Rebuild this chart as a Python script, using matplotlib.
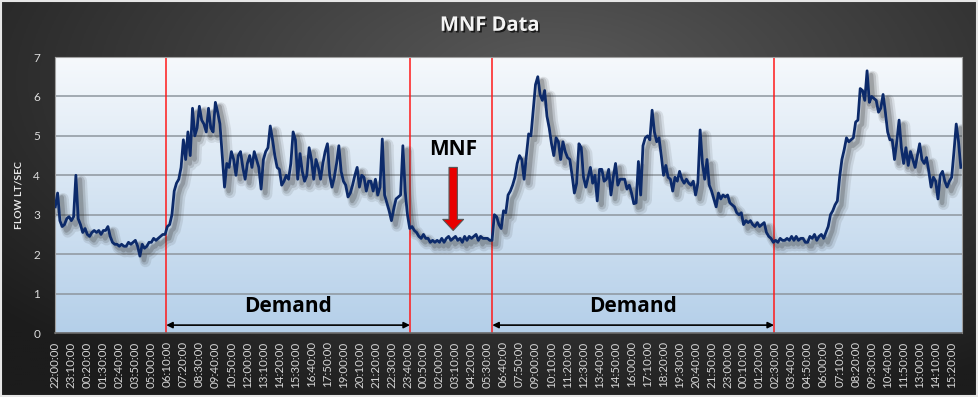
import matplotlib
matplotlib.use('Agg')
import matplotlib.pyplot as plt
import matplotlib.patheffects as pe
from matplotlib.patches import Rectangle
import numpy as np

# 流量数据, 每10分钟一个点, 从 22:00 开始
flow = [
    3.2, 3.55, 2.85, 2.7, 2.75, 2.9, 2.95, 2.85, 2.95, 4.0,
    2.9, 2.75, 2.55, 2.65, 2.5, 2.45, 2.55, 2.6, 2.55, 2.6,
    2.5, 2.6, 2.6, 2.7, 2.45, 2.3, 2.25, 2.25, 2.2, 2.25,
    2.2, 2.2, 2.3, 2.25, 2.3, 2.35, 2.2, 1.95, 2.25, 2.15,
    2.2, 2.3, 2.3, 2.4, 2.35, 2.4, 2.45, 2.5, 2.5, 2.7,
    2.75, 3.0, 3.6, 3.8, 3.9, 4.2, 4.9, 4.4, 5.1, 4.5,
    5.7, 5.0, 5.2, 5.75, 5.4, 5.3, 5.1, 5.7, 5.2, 5.1,
    5.85, 5.6, 5.3, 4.5, 3.7, 4.3, 4.2, 4.6, 4.4, 4.0,
    4.5, 4.6, 4.2, 3.9, 4.3, 4.5, 4.2, 4.6, 4.4, 4.2,
    3.65, 4.4, 4.6, 4.7, 5.25, 4.9, 4.5, 4.2, 4.15, 3.75,
    3.85, 4.0, 3.9, 4.3, 5.1, 4.9, 3.9, 4.55, 4.1, 3.85,
    4.0, 4.7, 4.4, 3.9, 4.4, 4.2, 3.9, 4.3, 4.6, 4.8,
    4.0, 3.7, 3.95, 4.3, 4.75, 4.1, 3.85, 3.75, 3.45, 3.55,
    3.75, 4.0, 4.2, 3.7, 4.0, 3.95, 3.6, 3.85, 3.85, 3.6,
    3.9, 3.5, 3.7, 4.92, 3.5, 3.3, 3.1, 2.85, 3.15, 3.4,
    3.45, 3.5, 4.75, 3.6, 3.0, 2.65, 2.7, 2.6, 2.55, 2.45,
    2.4, 2.5, 2.4, 2.4, 2.3, 2.35, 2.3, 2.35, 2.3, 2.4,
    2.3, 2.4, 2.45, 2.35, 2.4, 2.45, 2.35, 2.4, 2.3, 2.45,
    2.35, 2.45, 2.4, 2.45, 2.5, 2.35, 2.45, 2.4, 2.4, 2.4,
    2.35, 2.35, 3.0, 2.95, 2.75, 2.65, 3.1, 3.05, 3.5, 3.6,
    3.75, 3.95, 4.3, 4.5, 4.4, 3.9, 4.5, 5.05, 5.0, 5.65,
    6.3, 6.5, 6.05, 5.9, 6.15, 5.5, 5.2, 4.8, 4.5, 4.95,
    4.85, 4.4, 4.85, 4.6, 4.45, 4.4, 4.0, 3.55, 3.8, 4.8,
    4.7, 3.95, 3.7, 3.95, 4.2, 3.8, 4.0, 3.35, 4.15, 4.15,
    3.85, 3.9, 4.15, 3.5, 3.95, 4.3, 3.75, 3.9, 3.9, 3.9,
    3.65, 3.75, 3.55, 3.28, 3.3, 4.35, 3.5, 4.75, 4.95, 5.0,
    4.9, 5.65, 5.1, 4.85, 4.95, 4.5, 4.0, 4.25, 3.95, 3.9,
    3.6, 3.95, 3.85, 4.1, 3.9, 3.8, 3.9, 3.8, 3.75, 3.85,
    3.5, 3.8, 5.15, 4.3, 3.9, 4.4, 3.75, 3.6, 3.4, 3.2,
    3.55, 3.4, 3.5, 3.45, 3.5, 3.3, 3.25, 3.2, 3.05, 3.0,
    3.05, 2.75, 2.85, 2.8, 2.85, 2.75, 2.7, 2.8, 2.7, 2.75,
    2.8, 2.55, 2.45, 2.4, 2.3, 2.35, 2.3, 2.4, 2.35, 2.35,
    2.4, 2.35, 2.45, 2.35, 2.45, 2.35, 2.4, 2.4, 2.3, 2.3,
    2.45, 2.4, 2.5, 2.35, 2.45, 2.5, 2.4, 2.55, 2.7, 3.0,
    3.1, 3.25, 3.35, 3.95, 4.4, 4.65, 4.95, 4.85, 4.9, 4.95,
    5.35, 5.4, 6.2, 6.15, 5.9, 6.65, 5.85, 6.0, 5.95, 5.9,
    5.6, 5.7, 6.05, 5.6, 5.1, 4.9, 4.9, 4.4, 4.85, 5.4,
    4.7, 4.3, 4.7, 4.25, 4.6, 4.4, 4.2, 4.5, 4.8, 4.4,
    4.3, 4.45, 4.1, 3.7, 3.95, 3.85, 3.4, 4.0, 4.1, 3.85,
    3.7, 3.85, 3.95, 4.6, 5.3, 4.85, 4.2,
]

# 横轴标签, 每70分钟一个
tick_labels = [
    '22:00:00', '23:10:00', '00:20:00', '01:30:00', '02:40:00', '03:50:00',
    '05:00:00', '06:10:00', '07:20:00', '08:30:00', '09:40:00', '10:50:00',
    '12:00:00', '13:10:00', '14:20:00', '15:30:00', '16:40:00', '17:50:00',
    '19:00:00', '20:10:00', '21:20:00', '22:30:00', '23:40:00', '00:50:00',
    '02:00:00', '03:10:00', '04:20:00', '05:30:00', '06:40:00', '07:50:00',
    '09:00:00', '10:10:00', '11:20:00', '12:30:00', '13:40:00', '14:50:00',
    '16:00:00', '17:10:00', '18:20:00', '19:30:00', '20:40:00', '21:50:00',
    '23:00:00', '00:10:00', '01:20:00', '02:30:00', '03:40:00', '04:50:00',
    '06:00:00', '07:10:00', '08:20:00', '09:30:00', '10:40:00', '11:50:00',
    '13:00:00', '14:10:00', '15:20:00',
]
tick_step = 7

# 分段红线 (样本序号) 和注释
red_marks = [48.5, 155.1, 191.1, 314.3]
demand_spans = [(48.5, 155.1), (191.1, 314.3)]
mnf_point = (174, 2.6)
mnf_label_y = 4.65

FONT = 'Lato'
NOTE_FONT = 'Open Sans'

fig = plt.figure(figsize=(9.79, 3.97), dpi=100)

# 深色径向渐变背景
bg = fig.add_axes([0, 0, 1, 1], zorder=-10)
yy, xx = np.mgrid[0:1:200j, 0:1:490j]
r = np.sqrt(((xx - 0.56) / 0.75) ** 2 + ((yy - 0.2) / 0.9) ** 2)
r = np.clip(r, 0, 1)
c0 = np.array([0x5a, 0x5a, 0x5a]) / 255
c1 = np.array([0x1c, 0x1c, 0x1c]) / 255
img = c0[None, None, :] * (1 - r[..., None]) + c1[None, None, :] * r[..., None]
bg.imshow(img, extent=[0, 1, 0, 1], aspect='auto')
bg.set_xlim(0, 1)
bg.set_ylim(0, 1)
bg.axis('off')
fig.patches.append(Rectangle((0.001, 0.002), 0.997, 0.995, transform=fig.transFigure,
                             fill=False, edgecolor='#e6e6e6', lw=1.5))

ax = fig.add_axes([0.0565, 0.1612, 0.9261, 0.6952])

# 绘图区渐变 (上白下浅蓝)
grad = np.linspace(0, 1, 256)[:, None]
top = np.array([0xf6, 0xf9, 0xfc]) / 255
bot = np.array([0xb4, 0xcf, 0xe9]) / 255
pimg = top[None, None, :] * (1 - grad[..., None]) + bot[None, None, :] * grad[..., None]
pimg = np.repeat(pimg, 2, axis=1)
ax.imshow(pimg, extent=[0, 1, 0, 1], transform=ax.transAxes, aspect='auto', zorder=0)

x = np.arange(len(flow))
ax.set_xlim(0, len(flow) - 0.5)
ax.set_ylim(0, 7)

for v in range(1, 7):
    ax.axhline(v, color='#8e969e', lw=1.1, zorder=1)

for xm in red_marks:
    ax.axvline(xm, color='#ff1a1a', lw=1.1, zorder=2)

shadow = [
    pe.SimpleLineShadow(offset=(4, -4), shadow_color='#2a2a2a', alpha=0.10, linewidth=8),
    pe.SimpleLineShadow(offset=(3.5, -3.5), shadow_color='#2a2a2a', alpha=0.15, linewidth=5.5),
    pe.SimpleLineShadow(offset=(3, -3), shadow_color='#2a2a2a', alpha=0.22, linewidth=3),
    pe.Normal(),
]
ax.plot(x, flow, color='#0c2a6a', lw=2.0, zorder=3, path_effects=shadow)

# Demand 双向箭头
for a, b in demand_spans:
    ax.annotate('', xy=(b, 0.2), xytext=(a, 0.2),
                arrowprops=dict(arrowstyle='<|-|>', color='black', lw=1.2,
                                mutation_scale=9, shrinkA=0, shrinkB=0), zorder=4)
    ax.text((a + b) / 2, 0.68, 'Demand', ha='center', va='center', fontsize=15,
            fontweight='bold', family=NOTE_FONT, color='black', zorder=4)

# MNF 红色箭头
ax.annotate('', xy=mnf_point, xytext=(mnf_point[0], 4.2),
            arrowprops=dict(arrowstyle='simple,head_length=8,head_width=15,tail_width=6',
                            mutation_scale=1, facecolor='#e80000', edgecolor='#555555',
                            lw=0.8, shrinkA=0, shrinkB=0), zorder=5)
ax.text(mnf_point[0], mnf_label_y, 'MNF', ha='center', va='center', fontsize=15,
        fontweight='bold', family=NOTE_FONT, color='black', zorder=5)

ax.set_xticks(x[::tick_step])
ax.set_xticklabels(tick_labels, rotation=90, fontsize=8.3, family=FONT, color='#d6d6d6')
ax.set_yticks(range(0, 8))
ax.set_yticklabels([str(v) for v in range(0, 8)], fontsize=8.5, family=FONT, color='#dcdcdc')
ax.tick_params(axis='both', length=0)
ax.tick_params(axis='x', pad=6)
ax.tick_params(axis='y', pad=11)
ax.set_ylabel('FLOW LT/SEC', fontsize=7.5, fontweight='bold', family=FONT,
              color='#e8e8e8', labelpad=7)

for s in ax.spines.values():
    s.set_color('#a0a0a0')
    s.set_linewidth(0.8)
ax.spines['bottom'].set_color('#6a6a6a')
ax.spines['bottom'].set_linewidth(1.2)

fig.text(0.5, 0.935, 'MNF Data', ha='center', va='center', fontsize=14.5,
         fontweight='bold', family=NOTE_FONT, color='#f4f4f4',
         path_effects=[pe.withSimplePatchShadow(offset=(1.2, -1.2), shadow_rgbFace='black', alpha=0.7)])

fig.savefig('out.png', dpi=100)
